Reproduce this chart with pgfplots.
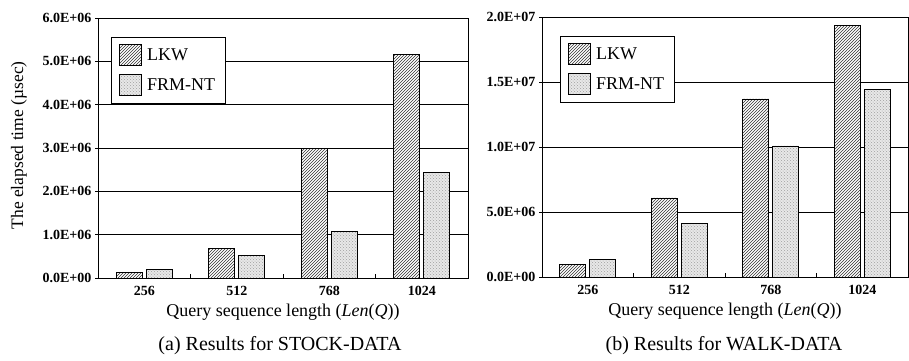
\documentclass[border=0pt]{standalone}
\usepackage{pgfplots}
\pgfplotsset{compat=1.18}
\usetikzlibrary{patterns}
\usepackage{fontspec}
\setmainfont{Liberation Serif}

\pgfplotsset{
  common/.style={
    scale only axis,
    ybar=4pt, bar width=26pt,
    xmin=-0.5, xmax=3.5, ymin=0,
    xtick={0,1,2,3}, xticklabels={256,512,768,1024},
    major x tick style={draw=none},
    extra x ticks={0.5,1.5,2.5},
    extra x tick labels={},
    extra x tick style={grid=none, major tick length=4pt, tick align=inside, major x tick style={draw=black, line width=0.6pt}},
    ymajorgrids, grid style={black, line width=0.6pt},
    axis line style={black, line width=0.9pt},
    ytick style={black, line width=0.6pt},
    major tick length=3pt, tick align=outside,
    xtick pos=bottom, ytick pos=left,
    scaled y ticks=false,
    ticklabel style={font=\fontsize{14}{16}\selectfont\bfseries},
    xticklabel style={yshift=-2pt},
    xlabel={Query sequence length (\textit{Len}(\textit{Q}))},
    xlabel style={font=\fontsize{18}{20}\selectfont, at={(axis description cs:0.5,0)}, anchor=center, yshift=-34pt},
    legend cell align=left,
    legend style={anchor=north west,
      draw=black, line width=0.8pt, font=\fontsize{18}{20}\selectfont,
      row sep=8pt, column sep=3pt, inner xsep=8pt, inner ysep=7pt},
    legend image code/.code={\draw[#1, line width=0.8pt] (0pt,-10.5pt) rectangle (22pt,10.5pt);},
  },
  lkw/.style={draw=black, line width=0.8pt, fill=white, postaction={pattern=north east lines, pattern color=black!80}},
  frm/.style={draw=black, line width=0.8pt, fill=gray!18, postaction={pattern=crosshatch dots, pattern color=gray!75}},
}

\begin{document}
\begin{tikzpicture}[x=1pt,y=1pt]
\useasboundingbox (0,0) rectangle (909,360);
\begin{axis}[common,
  at={(98pt,82pt)}, anchor=south west,
  width=370pt, height=260pt,
  ymax=6e6,
  ytick={0,1000000,2000000,3000000,4000000,5000000,6000000},
  yticklabels={0.0E+00,1.0E+06,2.0E+06,3.0E+06,4.0E+06,5.0E+06,6.0E+06},
  ylabel={The elapsed time (µsec)},
  ylabel style={font=\fontsize{17.5}{19}\selectfont, at={(axis description cs:-0.2135,0.51)}, anchor=center},
  legend style={at={(axis description cs:0.035,0.927)}},
]
\addplot[lkw] coordinates {(0,120000) (1,680000) (2,2990000) (3,5160000)};
\addplot[frm] coordinates {(0,190000) (1,520000) (2,1070000) (3,2430000)};
\legend{LKW,FRM-NT}
\end{axis}
\begin{axis}[common,
  at={(542pt,83pt)}, anchor=south west,
  width=366pt, height=260pt,
  ymax=2e7,
  ytick={0,5000000,10000000,15000000,20000000},
  yticklabels={0.0E+00,5.0E+06,1.0E+07,1.5E+07,2.0E+07},
  legend style={at={(axis description cs:0.049,0.927)}},
]
\addplot[lkw] coordinates {(0,950000) (1,6080000) (2,13700000) (3,19360000)};
\addplot[frm] coordinates {(0,1330000) (1,4130000) (2,10080000) (3,14410000)};
\legend{LKW,FRM-NT}
\end{axis}
\node[font=\fontsize{20}{22}\selectfont] at (280,14) {(a) Results for STOCK-DATA};
\node[font=\fontsize{20}{22}\selectfont] at (724,14) {(b) Results for WALK-DATA};
\end{tikzpicture}
\end{document}
